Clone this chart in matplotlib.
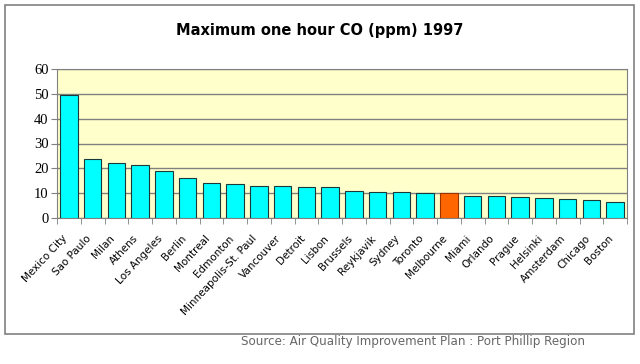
import matplotlib
matplotlib.use('Agg')
import matplotlib.pyplot as plt
import matplotlib.transforms as mtransforms
from matplotlib.patches import Rectangle
import numpy as np

cities = ['Mexico City', 'Sao Paulo', 'Milan', 'Athens', 'Los Angeles', 'Berlin',
          'Montreal', 'Edmonton', 'Minneapolis-St. Paul', 'Vancouver', 'Detroit',
          'Lisbon', 'Brussels', 'Reykjavik', 'Sydney', 'Toronto', 'Melbourne',
          'Miami', 'Orlando', 'Prague', 'Helsinki', 'Amsterdam', 'Chicago', 'Boston']
co_max = [49.5, 23.8, 22.0, 21.2, 18.8, 16.0, 14.0, 13.6, 13.0, 13.0, 12.4,
          12.4, 10.7, 10.6, 10.3, 9.9, 9.9, 8.9, 8.9, 8.6, 8.0, 7.8, 7.4, 6.4]
highlight = 'Melbourne'

fig = plt.figure(figsize=(6.4, 3.64), dpi=100)
ax = fig.add_axes([57/640, 1 - 218/364, 570/640, 149/364])
ax.set_facecolor('#FFFFCC')

x = np.arange(len(cities))
colors = ['#FF6600' if c == highlight else '#00FFFF' for c in cities]
edges = ['#993300' if c == highlight else '#1a3a3a' for c in cities]
ax.bar(x, co_max, width=0.74, color=colors, edgecolor=edges, linewidth=0.8, zorder=3)

ax.set_xlim(-0.5, len(cities) - 0.5)
ax.set_ylim(0, 60)
ax.set_yticks(range(0, 61, 10))
ax.yaxis.grid(True, color='#808080', linewidth=1, zorder=0)
ax.set_axisbelow(True)
for t in ax.get_yticklabels():
    t.set_fontfamily('Liberation Serif')
    t.set_fontsize(10.5)
ax.tick_params(axis='y', length=4, color='#808080', pad=2)

ax.set_xticks(x)
ax.set_xticklabels(cities, rotation=47, ha='right', rotation_mode='anchor',
                   fontsize=7.5, family='DejaVu Sans')
ax.tick_params(axis='x', length=0, pad=11)
shift = mtransforms.ScaledTranslation(-7/100, 0, fig.dpi_scale_trans)
for t in ax.get_xticklabels():
    t.set_transform(t.get_transform() + shift)
ax.set_xticks(np.arange(-0.5, len(cities), 1), minor=True)
ax.tick_params(axis='x', which='minor', length=4, color='#808080')

for s in ax.spines.values():
    s.set_color('#808080')

fig.text(0.5, 1 - 30/364, 'Maximum one hour CO (ppm) 1997', ha='center', va='center',
         fontsize=10.5, fontweight='bold', family='DejaVu Sans')
fig.text(241/640, 1 - 341/364, 'Source: Air Quality Improvement Plan : Port Phillip Region',
         ha='left', va='center', fontsize=8.6, color='#666666', family='DejaVu Sans')

fig.patches.append(Rectangle((5/640, 1 - 334/364), 629/640, 329/364, transform=fig.transFigure,
                             fill=False, edgecolor='#808080', linewidth=1.2))

fig.savefig('out.png', dpi=100)
